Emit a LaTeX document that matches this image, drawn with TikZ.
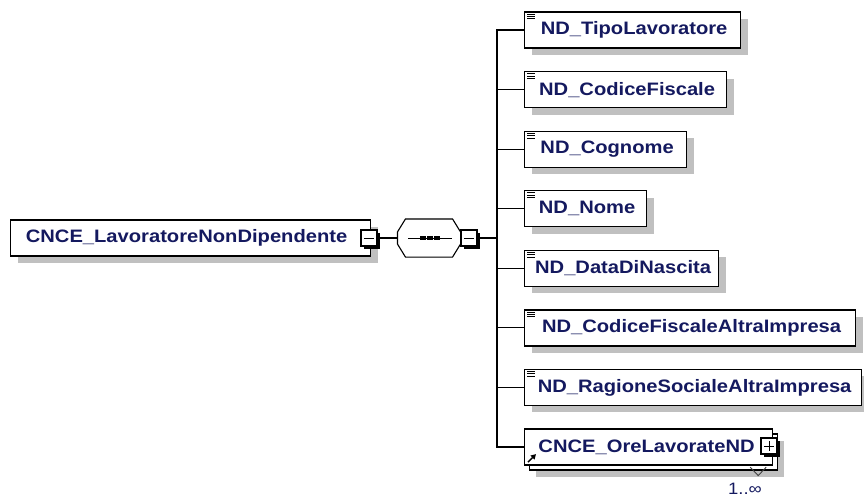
\documentclass[tikz,border=0pt]{standalone}
\usepackage{fontspec}
\setmainfont{Liberation Sans}[FakeStretch=1.12]
\usetikzlibrary{arrows.meta,shadows,calc}
\definecolor{txt}{RGB}{20,25,95}
\definecolor{shd}{RGB}{192,192,192}
\begin{document}
\begin{tikzpicture}[x=1pt,y=-1pt,
  line width=1.1pt,
  lbl/.style={font=\fontsize{18}{20}\selectfont\bfseries, text=txt},
  basebox/.style={draw=black, fill=white, line width=1.2pt, minimum height=36pt,
    inner xsep=0pt, inner ysep=0pt, anchor=west, lbl},
  elbox/.style={basebox, drop shadow={shadow xshift=7pt, shadow yshift=-7pt, fill=shd, opacity=1}},
  multibox/.style={basebox,
    drop shadow={shadow xshift=11pt, shadow yshift=-12pt, fill=shd, opacity=1},
    copy shadow={shadow xshift=5pt, shadow yshift=-5pt, draw=black, fill=white, line width=1.2pt}},
  togglebox/.style={draw=black, fill=white, line width=1.2pt, minimum width=16pt, minimum height=16pt,
    inner sep=0pt, drop shadow={shadow xshift=2.5pt, shadow yshift=-2.5pt, fill=black, opacity=1}},
  icon/.style={line width=0.8pt, black},
]
\useasboundingbox (0,0) rectangle (864,498);

% main element
\node[elbox, minimum width=360pt] (main) at (10,238) {\hspace{-8pt}CNCE\_LavoratoreNonDipendente};
\node[togglebox] (m1) at (369,238) {};
\draw[line width=1pt] ($(m1.center)+(-5,0)$) -- ($(m1.center)+(5,0)$);

% sequence compositor
\node[minimum width=62pt, minimum height=37pt, inner sep=0pt] (seq) at (429,238) {};
\def\octpath{($(seq.west)+(0,-6)$) -- ($(seq.north west)+(8,0)$) -- ($(seq.north east)+(-8,0)$)
  -- ($(seq.east)+(0,-6)$) -- ($(seq.east)+(0,6)$) -- ($(seq.south east)+(-8,0)$)
  -- ($(seq.south west)+(8,0)$) -- ($(seq.west)+(0,6)$) -- cycle}
\fill[shd, shift={(7,7)}] \octpath;
\draw[fill=white, line width=1.1pt] \octpath;
\draw[line width=1pt] ($(seq.center)+(-21,0)$) -- ($(seq.center)+(23,0)$);
\foreach \dx in {-6,1,8} \fill ($(seq.center)+(\dx-2.6,-2.2)$) rectangle ($(seq.center)+(\dx+2.6,2.2)$);
\node[togglebox] (m2) at (469,238) {};
\draw[line width=1pt] ($(m2.center)+(-5,0)$) -- ($(m2.center)+(5,0)$);

\draw (m1.east) -- (seq.west);
\coordinate (bus) at (497,238);
\draw (m2.east) -- (bus);

% children
\node[elbox, minimum width=216pt] (c1) at (524,30)    {\hspace{3pt}ND\_TipoLavoratore};
\node[elbox, minimum width=202pt] (c2) at (524,89.6)  {\hspace{3pt}ND\_CodiceFiscale};
\node[elbox, minimum width=162pt] (c3) at (524,149.1) {\hspace{3pt}ND\_Cognome};
\node[elbox, minimum width=122pt] (c4) at (524,208.7) {\hspace{3pt}ND\_Nome};
\node[elbox, minimum width=194pt] (c5) at (524,268.3) {\hspace{3pt}ND\_DataDiNascita};
\node[elbox, minimum width=331pt] (c6) at (524,327.9) {\hspace{3pt}ND\_CodiceFiscaleAltraImpresa};
\node[elbox, minimum width=337pt] (c7) at (524,387.4) {\hspace{3pt}ND\_RagioneSocialeAltraImpresa};
\node[multibox, minimum width=248pt] (c8) at (524,447) {\hspace{-4pt}CNCE\_OreLavorateND};

\foreach \c in {c1,c2,c3,c4,c5,c6,c7,c8} \draw (bus) |- (\c.west);

% element icons
\foreach \c in {c1,c2,c3,c4,c5,c6,c7} {
  \foreach \dy in {2.6,5.0,7.4}
    \draw[icon] ($(\c.north west)+(3.2,\dy)$) -- ++(8,0);
}

% reference arrow icon
\draw[line width=1.5pt, -{Triangle[length=5pt,width=5.5pt]}] ($(c8.south west)+(4,-3.5)$) -- ++(8,-8);

% plus toggle
\node[togglebox] (p1) at (769,446) {};
\draw[line width=1pt] ($(p1.center)+(-5,0)$) -- ($(p1.center)+(5,0)$);
\draw[line width=1pt] ($(p1.center)+(0,-5)$) -- ($(p1.center)+(0,5)$);

% multiplicity
\draw[line width=0.9pt, black!75] ($(c8.south east)+(-23,1.5)$) -- ++(8,8.5) -- ++(8,-8.5);
\node[font=\fontsize{16.5}{18}\selectfont, text=txt, inner sep=0pt] (mult) at (745,489) {1..∞};
\end{tikzpicture}
\end{document}
